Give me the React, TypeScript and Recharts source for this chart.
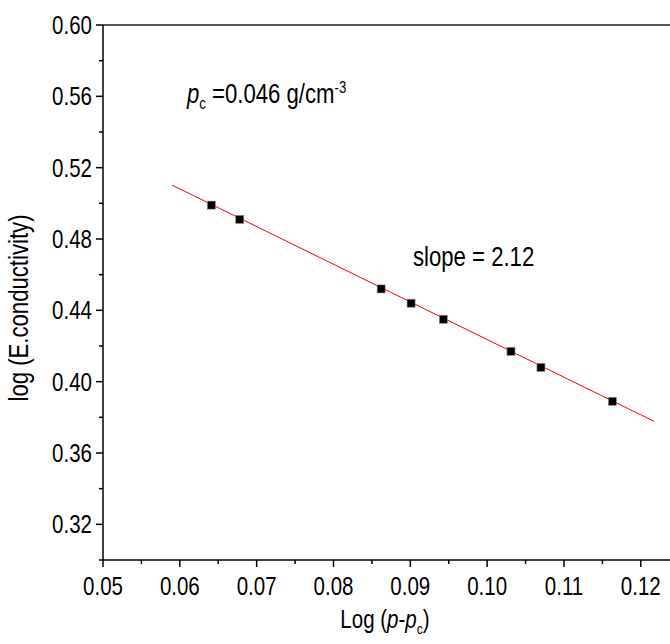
import React from "react";
import { ScatterChart, Scatter, XAxis, YAxis, ReferenceLine } from "recharts";

// measured points
const xValues = [0.0641, 0.0678, 0.0862, 0.0901, 0.0943, 0.1031, 0.107, 0.1163];
const yValues = [0.499, 0.491, 0.452, 0.444, 0.435, 0.417, 0.408, 0.389];

// linear fit, end points
const fitX = [0.059, 0.1217];
const fitY = [0.5102, 0.3778];

const xMajorTicks = [0.05, 0.06, 0.07, 0.08, 0.09, 0.1, 0.11, 0.12];
const xMinorTicks = [0.055, 0.065, 0.075, 0.085, 0.095, 0.105, 0.115];
const yMajorTicks = [0.32, 0.36, 0.4, 0.44, 0.48, 0.52, 0.56, 0.6];
const yMinorTicks = [0.3, 0.34, 0.38, 0.42, 0.46, 0.5, 0.54, 0.58];

const FONT = "'Liberation Sans', Arial, sans-serif";
const FS = 25;
const NARROW = 0.82; // the original lettering is a condensed face

const points = xValues.map((x, i) => ({ x, y: yValues[i] }));
const isMajor = (list: number[], v: number) => list.some((t) => Math.abs(t - v) < 1e-6);

const YTick = (props: any) => {
  const { x, y, payload } = props;
  const major = isMajor(yMajorTicks, payload.value);
  return (
    <g>
      <line x1={x - (major ? 7 : 4)} x2={x} y1={y} y2={y} stroke="#000" strokeWidth={1.5} />
      {major && (
        <text
          transform={`translate(${x - 11},${y}) scale(${NARROW},1)`}
          dy="0.36em"
          textAnchor="end"
          fontSize={FS}
          fontFamily={FONT}
          fill="#000"
        >
          {payload.value.toFixed(2)}
        </text>
      )}
    </g>
  );
};

const XTick = (props: any) => {
  const { x, y, payload } = props;
  const major = isMajor(xMajorTicks, payload.value);
  return (
    <g>
      <line x1={x} x2={x} y1={y} y2={y + (major ? 7 : 4)} stroke="#000" strokeWidth={1.5} />
      {major && (
        <text
          transform={`translate(${x},${y + 35}) scale(${NARROW},1)`}
          textAnchor="middle"
          fontSize={FS}
          fontFamily={FONT}
          fill="#000"
        >
          {payload.value.toFixed(2)}
        </text>
      )}
    </g>
  );
};

const Marker = (props: any) => {
  const { cx, cy } = props;
  return <rect x={cx - 4} y={cy - 4} width={8} height={8} fill="#000" stroke="#888" strokeWidth={0.6} />;
};

const narrowBox = (origin: string): React.CSSProperties => ({
  display: "inline-block",
  transform: `scaleX(${NARROW})`,
  transformOrigin: origin,
});

export default function App() {
  return (
    <div style={{ position: "absolute", left: 0, top: 0, width: 670, height: 644, background: "#fff", fontFamily: FONT, color: "#000" }}>
      <ScatterChart width={670} height={644} margin={{ top: 25, right: 0, left: 0, bottom: 0 }}>
        <XAxis
          type="number"
          dataKey="x"
          domain={[0.05, 0.1238]}
          ticks={[...xMajorTicks, ...xMinorTicks].sort((a, b) => a - b)}
          interval={0}
          height={84}
          tickSize={0}
          tickMargin={0}
          tickLine={false}
          tick={<XTick />}
          axisLine={{ stroke: "#000", strokeWidth: 1.5 }}
          allowDataOverflow
        />
        <YAxis
          type="number"
          dataKey="y"
          domain={[0.3, 0.6]}
          ticks={[...yMinorTicks, ...yMajorTicks].sort((a, b) => a - b)}
          interval={0}
          width={103}
          tickSize={0}
          tickMargin={0}
          tickLine={false}
          tick={<YTick />}
          axisLine={{ stroke: "#000", strokeWidth: 1.5 }}
          allowDataOverflow
        />
        <ReferenceLine y={0.6} stroke="#555" strokeWidth={2} />
        <ReferenceLine
          segment={[
            { x: fitX[0], y: fitY[0] },
            { x: fitX[1], y: fitY[1] },
          ]}
          stroke="#ff0000"
          strokeWidth={1}
        />
        <Scatter data={points} fill="#000" shape={<Marker />} isAnimationActive={false} />
      </ScatterChart>

      <div style={{ position: "absolute", left: 187, top: 72, fontSize: 27, whiteSpace: "nowrap", lineHeight: "32px" }}>
        <span style={narrowBox("left center")}>
          <i>p</i>
          <sub style={{ fontSize: 16 }}>c</sub> =0.046 g/cm<sup style={{ fontSize: 16 }}>-3</sup>
        </span>
      </div>
      <div style={{ position: "absolute", left: 413, top: 241, fontSize: 27, whiteSpace: "nowrap", lineHeight: "32px" }}>
        <span style={narrowBox("left center")}>slope = 2.12</span>
      </div>
      <div
        style={{
          position: "absolute",
          left: 19,
          top: 308,
          fontSize: 27,
          whiteSpace: "nowrap",
          lineHeight: "30px",
          transform: `translate(-50%, -50%) rotate(-90deg) scaleX(${NARROW})`,
        }}
      >
        log (E.conductivity)
      </div>
      <div
        style={{
          position: "absolute",
          left: 385,
          top: 619,
          fontSize: FS,
          whiteSpace: "nowrap",
          lineHeight: "26px",
          transform: `translate(-50%, -50%) scaleX(${NARROW})`,
        }}
      >
        Log (<i>p</i>-<i>p</i>
        <sub style={{ fontSize: 15, lineHeight: 0 }}>c</sub>)
      </div>
    </div>
  );
}
